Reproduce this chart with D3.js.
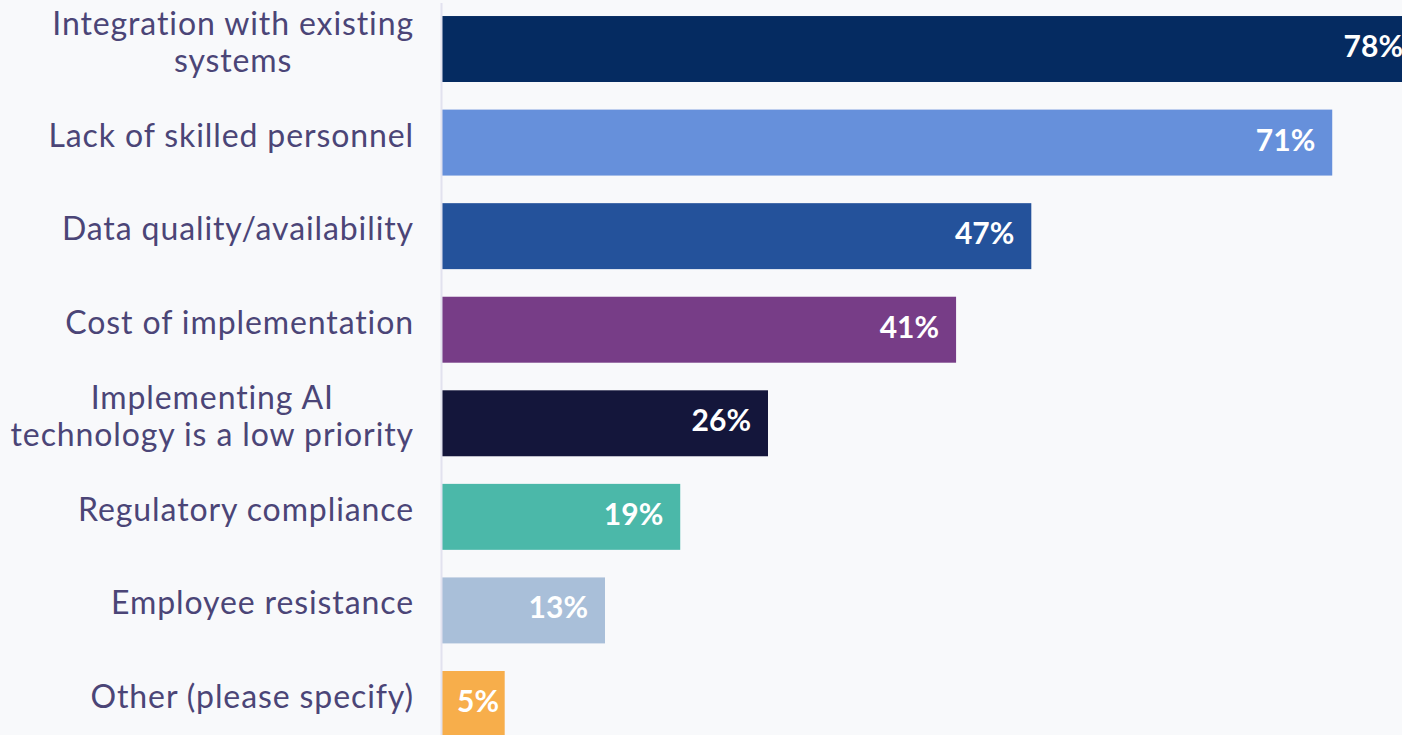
<!DOCTYPE html>
<html>
<head>
<meta charset="utf-8">
<script src="https://cdn.jsdelivr.net/npm/d3@7"></script>
<style>
  html, body { margin: 0; padding: 0; background: #f8f9fb; overflow: hidden; }
  svg { display: block; }
</style>
</head>
<body>
<div id="chart"></div>
<script>
// survey answers, top to bottom
var categories = [
  ["Integration with existing", "systems"],
  ["Lack of skilled personnel"],
  ["Data quality/availability"],
  ["Cost of implementation"],
  ["Implementing AI", "technology is a low priority"],
  ["Regulatory compliance"],
  ["Employee resistance"],
  ["Other (please specify)"]
];
var values = [78, 71, 47, 41, 26, 19, 13, 5];
var colors = ["#052b61", "#6690db", "#24529b", "#773d87", "#14163b", "#4bb8a9", "#a9bfd9", "#f7ae4b"];

var width = 1402, height = 735;
var axisX = 442, labelRight = 414;

var svg = d3.select("#chart").append("svg")
    .attr("width", width)
    .attr("height", height);

var y = d3.scaleBand()
    .domain(d3.range(values.length))
    .range([2, 751])
    .paddingInner(0.295)
    .paddingOuter(0.15);

var x = d3.scaleLinear()
    .domain([0, 78])
    .range([axisX, 1420]);

// bars
svg.selectAll(".bar")
  .data(values)
  .enter()
  .append("rect")
  .attr("class", "bar")
  .attr("x", x(0))
  .attr("y", function(d, i) { return y(i); })
  .attr("width", function(d) { return x(d) - x(0); })
  .attr("height", y.bandwidth())
  .style("fill", function(d, i) { return colors[i]; });

// axis line
svg.append("line")
  .attr("x1", axisX - 0.5).attr("x2", axisX - 0.5)
  .attr("y1", 3).attr("y2", height)
  .style("stroke", "#e2e2ef")
  .style("stroke-width", 2);

// value labels (short bars: label starts just inside the bar)
svg.selectAll(".val")
  .data(values)
  .enter()
  .append("text")
  .attr("class", "val")
  .attr("y", function(d, i) { return y(i) + y.bandwidth() / 2 + 8; })
  .style("font-family", "Lato, 'Open Sans', sans-serif")
  .style("font-weight", 700)
  .style("font-size", "30px")
  .style("fill", "#ffffff")
  .text(function(d) { return d + "%"; })
  .each(function(d) {
    var w = this.getComputedTextLength();
    var end = Math.max(x(d) - 17, x(0) + 15 + w);
    d3.select(this).attr("x", end).attr("text-anchor", "end");
  });

// category labels, centred lines in a right aligned block
var lineH = 37;
categories.forEach(function(lines, i) {
  var g = svg.append("text")
    .attr("text-anchor", "middle")
    .style("font-family", "Lato, 'Open Sans', sans-serif")
    .style("font-size", "32px")
    .style("letter-spacing", "0.9px")
    .style("fill", "#4b4577");
  var cy = y(i) + y.bandwidth() / 2 + 4 - (lines.length - 1) * lineH / 2;
  lines.forEach(function(t, k) {
    g.append("tspan").attr("x", 0).attr("y", cy + k * lineH).text(t);
  });
  var w = g.node().getBBox().width;
  g.selectAll("tspan").attr("x", labelRight - w / 2);
});
</script>
</body>
</html>
